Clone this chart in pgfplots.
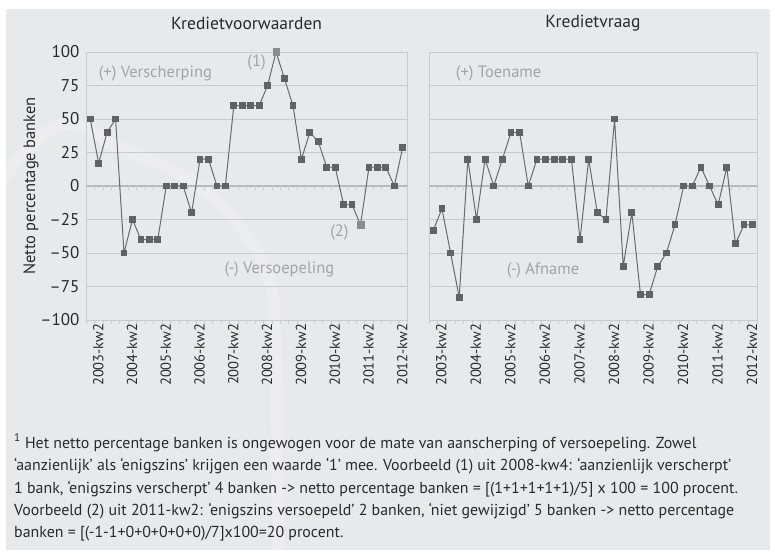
\documentclass[border=0pt]{standalone}
\usepackage{fontspec}
\setmainfont{PT Sans}
\usepackage{pgfplots}
\usepackage{pgfplotstable}
\pgfplotsset{compat=1.18}
\definecolor{bg}{HTML}{E8E9EB}
\definecolor{gridc}{HTML}{C9CACC}
\definecolor{zeroc}{HTML}{B8B9BB}
\definecolor{linec}{HTML}{6A6A6A}
\definecolor{markc}{HTML}{626262}
\definecolor{hlc}{HTML}{8C8C8C}
\definecolor{annc}{HTML}{A3A4A6}
\definecolor{txtc}{HTML}{2A2A2A}

\pgfplotstableread{
x y
0 50
1 17
2 40
3 50
4 -50
5 -25
6 -40
7 -40
8 -40
9 0
10 0
11 0
12 -20
13 20
14 20
15 0
16 0
17 60
18 60
19 60
20 60
21 75
22 100
23 80
24 60
25 20
26 40
27 33
28 14
29 14
30 -14
31 -14
32 -29
33 14
34 14
35 14
36 0
37 29
}\voorw

\pgfplotstableread{
x y
0 -33
1 -17
2 -50
3 -83
4 20
5 -25
6 20
7 0
8 20
9 40
10 40
11 0
12 20
13 20
14 20
15 20
16 20
17 -40
18 20
19 -20
20 -25
21 50
22 -60
23 -20
24 -81
25 -81
26 -60
27 -50
28 -29
29 0
30 0
31 14
32 0
33 -14
34 14
35 -43
36 -29
37 -29
}\vraag

\tikzset{ann/.style={annc, font=\fontsize{16.5}{16.5}\selectfont, inner sep=0pt}}
\pgfplotsset{
  panel/.style={
    scale only axis, height=268pt,
    ymin=-100, ymax=100, xmin=-0.5, xmax=37.5,
    axis line style={gridc, line width=0.8pt},
    ytick={-100,-75,...,100},
    ymajorgrids, grid style={gridc, line width=0.8pt},
    xtick={0,4,...,36},
    xticklabels={2003-kw2,2004-kw2,2005-kw2,2006-kw2,2007-kw2,2008-kw2,2009-kw2,2010-kw2,2011-kw2,2012-kw2},
    x tick label style={rotate=90, anchor=east, font=\fontsize{14.5}{14.5}\selectfont, text=txtc, yshift=-8pt},
    y tick label style={font=\fontsize{17}{17}\selectfont, text=txtc, xshift=-3pt},
    minor xtick={-0.5,0.5,...,37.5},
    major tick length=0pt, minor tick length=4pt, tick align=outside,
    tick style={gridc, line width=0.6pt},
    xtick pos=lower, ytick pos=left,
    title style={font=\fontsize{17.5}{17.5}\selectfont, text=txtc, at={(axis description cs:0.5,1)}, anchor=center, yshift=23pt},
    clip=false,
  },
  dataline/.style={linec, line width=1pt, mark=square*, mark size=2.9pt, mark options={markc, solid}},
  hl/.style={only marks, mark=square*, mark size=3.3pt, hlc},
}

\begin{document}
\begin{tikzpicture}
\fill[white] (0,0) rectangle (775pt,557pt);
\fill[bg] (6pt,7pt) rectangle (770pt,548pt);
\begin{scope}
\clip (6pt,7pt) rectangle (770pt,548pt);
\draw[white, opacity=0.22, line width=12pt] plot[smooth, tension=0.6] coordinates {(0pt,375pt) (60pt,432pt) (123pt,408pt) (190pt,377pt) (240pt,330pt) (267pt,284pt) (275pt,227pt) (278pt,0pt)};
\end{scope}

\begin{axis}[panel, at={(86pt,237pt)}, anchor=south west, width=321pt,
  title={Kredietvoorwaarden},
  yticklabels={–100,–75,–50,–25,0,25,50,75,100},
  ylabel={Netto percentage banken},
  ylabel style={font=\fontsize{16.5}{16.5}\selectfont, text=txtc, at={(axis description cs:-0.171,0.5)}, anchor=center},
]
\draw[zeroc, line width=1.8pt] (axis cs:-0.5,0) -- (axis cs:37.5,0);
\pgfplotsinvokeforeach{-0.5,0.5,...,37.5}{\draw[gridc, line width=0.6pt] (axis cs:#1,0) -- ++(0pt,-4.5pt);}
\addplot[dataline] table[x=x,y=y] {\voorw};
\addplot[hl] coordinates {(22,100) (32,-29)};
\node[ann, anchor=west] at (axis cs:1,84) {(+) Verscherping};
\node[ann, anchor=west] at (axis cs:15.9,-62) {(-) Versoepeling};
\node[ann, anchor=east] at (axis cs:20.8,92) {(1)};
\node[ann, anchor=west] at (axis cs:28.4,-34.5) {(2)};
\end{axis}

\begin{axis}[panel, at={(429pt,237pt)}, anchor=south west, width=328pt,
  title={Kredietvraag},
  yticklabels={},
]
\draw[zeroc, line width=1.8pt] (axis cs:-0.5,0) -- (axis cs:37.5,0);
\pgfplotsinvokeforeach{-0.5,0.5,...,37.5}{\draw[gridc, line width=0.6pt] (axis cs:#1,0) -- ++(0pt,-4.5pt);}
\addplot[dataline] table[x=x,y=y] {\vraag};
\node[ann, anchor=west] at (axis cs:2.6,84) {(+) Toename};
\node[ann, anchor=west] at (axis cs:8.5,-63) {(-) Afname};
\end{axis}

\begin{scope}[every node/.style={anchor=base west, inner sep=0pt, text=txtc, font=\fontsize{15.9}{15.9}\selectfont}]
\node at (14pt,109pt) {\textsuperscript{1} Het netto percentage banken is ongewogen voor de mate van aanscherping of versoepeling. Zowel};
\node at (14pt,87pt) {‘aanzienlijk’ als ‘enigszins’ krijgen een waarde ‘1’ mee. Voorbeeld (1) uit 2008-kw4: ‘aanzienlijk verscherpt’};
\node at (14pt,64pt) {1 bank, ‘enigszins verscherpt’ 4 banken -> netto percentage banken = [(1+1+1+1+1)/5] x 100 = 100 procent.};
\node at (14pt,42pt) {Voorbeeld (2) uit 2011-kw2: ‘enigszins versoepeld’ 2 banken, ‘niet gewijzigd’ 5 banken -> netto percentage};
\node at (14pt,20pt) {banken = [(-1-1+0+0+0+0+0)/7]x100=20 procent.};
\end{scope}

\pgfresetboundingbox
\useasboundingbox (0,0) rectangle (775pt,557pt);
\end{tikzpicture}
\end{document}
